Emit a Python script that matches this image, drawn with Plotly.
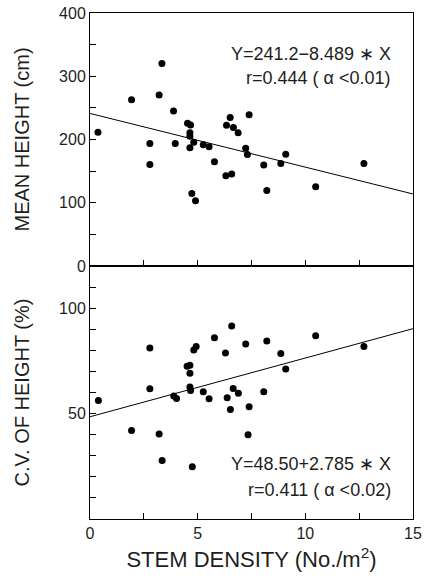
import plotly.graph_objects as go
from plotly.subplots import make_subplots

# ---- data ----
stem_density = [0.37, 1.93, 2.78, 2.78, 3.21, 3.34, 3.88, 3.96, 4.53, 4.67, 4.64, 4.64,
                4.64, 4.82, 4.73, 4.90, 5.26, 5.53, 5.78, 6.31, 6.58, 6.34, 6.51, 6.66,
                6.88, 7.23, 7.31, 7.39, 8.07, 8.21, 8.86, 9.09, 10.48, 12.72]
mean_height = [211.6, 263, 193.7, 160.5, 270.5, 320, 245, 193.7, 225.8, 223, 210.5, 205,
               186.8, 195.8, 114.7, 103, 191.6, 188.4, 164.7, 142.6, 145.3, 222.6, 234.7, 219,
               210.5, 186.3, 176.3, 239, 159.5, 119.5, 162, 176.8, 125.3, 162]

stem_density_cv = [0.39, 1.93, 2.78, 2.78, 3.21, 3.35, 3.89, 4.02, 4.51, 4.64, 4.64, 4.64,
                   4.67, 4.75, 4.82, 4.93, 5.26, 5.53, 5.78, 6.29, 6.37, 6.52, 6.58, 6.65,
                   6.89, 7.23, 7.39, 7.34, 8.07, 8.21, 8.86, 9.09, 10.48, 12.72]
cv_height = [56.2, 42.0, 81.1, 61.8, 40.3, 27.7, 58.3, 57.2, 72.5, 72.9, 69.1, 62.6,
             61.0, 24.8, 80.1, 81.8, 60.3, 57.0, 86.0, 78.7, 57.5, 51.9, 91.6, 61.9,
             59.7, 83.0, 53.2, 40.0, 60.3, 84.4, 78.5, 71.2, 86.9, 81.8]

# regression coefficients [intercept, slope]
fit_height = [241.2, -8.489]
fit_cv = [48.50, 2.785]
fit_x_range = [0, 15]

x_tickvals = [0, 2.5, 5, 7.5, 10, 12.5, 15]
x_ticktext = ["0", " ", "5", " ", "10", " ", "15"]
top_tickvals = [0, 50, 100, 150, 200, 250, 300, 350, 400]
top_ticktext = ["0", " ", "100", " ", "200", " ", "300", " ", "400"]
bot_tickvals = [0, 10, 20, 30, 40, 50, 60, 70, 80, 90, 100, 110, 120]
bot_ticktext = [" ", " ", " ", " ", " ", "50", " ", " ", " ", " ", "100", " ", " "]

FONT = "Liberation Sans, Arial, Helvetica, sans-serif"
INK = "black"
TXT = "#1e1e1e"

fig = make_subplots(rows=2, cols=1, shared_xaxes=True, vertical_spacing=0)

fig.add_trace(go.Scatter(x=stem_density, y=mean_height, mode="markers",
                         marker=dict(color=INK, size=7), showlegend=False), row=1, col=1)
fig.add_trace(go.Scatter(x=fit_x_range,
                         y=[fit_height[0] + fit_height[1] * v for v in fit_x_range],
                         mode="lines", line=dict(color=INK, width=1), showlegend=False),
              row=1, col=1)
fig.add_trace(go.Scatter(x=stem_density_cv, y=cv_height, mode="markers",
                         marker=dict(color=INK, size=7), showlegend=False), row=2, col=1)
fig.add_trace(go.Scatter(x=fit_x_range,
                         y=[fit_cv[0] + fit_cv[1] * v for v in fit_x_range],
                         mode="lines", line=dict(color=INK, width=1), showlegend=False),
              row=2, col=1)

fig.update_xaxes(showline=True, linecolor=INK, linewidth=1, mirror=True,
                 ticks="inside", ticklen=6, tickcolor=INK, tickwidth=1,
                 showgrid=False, zeroline=False,
                 tickfont=dict(family=FONT, size=16, color=TXT),
                 range=[0, 15], tickmode="array",
                 tickvals=x_tickvals, ticktext=x_ticktext)
fig.update_yaxes(showline=True, linecolor=INK, linewidth=1, mirror=True,
                 ticks="inside", ticklen=6, tickcolor=INK, tickwidth=1,
                 showgrid=False, zeroline=False,
                 tickfont=dict(family=FONT, size=16, color=TXT))
fig.update_xaxes(showticklabels=False, row=1, col=1)
fig.update_xaxes(title=dict(text="STEM DENSITY (No./m<sup>2</sup>)",
                            font=dict(family=FONT, size=22, color=TXT), standoff=10),
                 row=2, col=1)
fig.update_yaxes(range=[0, 400], tickmode="array", tickvals=top_tickvals,
                 ticktext=top_ticktext,
                 title=dict(text="MEAN HEIGHT (cm)",
                            font=dict(family=FONT, size=20, color=TXT), standoff=24),
                 row=1, col=1)
fig.update_yaxes(range=[0, 120], tickmode="array", tickvals=bot_tickvals,
                 ticktext=bot_ticktext,
                 title=dict(text="C.V. OF HEIGHT (%)",
                            font=dict(family=FONT, size=20, color=TXT), standoff=24),
                 row=2, col=1)

fig.update_layout(
    width=435, height=582,
    margin=dict(l=90, r=22, t=13, b=63, autoexpand=False),
    paper_bgcolor="white", plot_bgcolor="white",
    font=dict(family=FONT, color=TXT),
)

ann_font = dict(family=FONT, size=18, color=TXT)
fig.add_annotation(x=14.05, y=335, xanchor="right", yanchor="middle",
                   text="Y=241.2−8.489 ∗ X", showarrow=False, font=ann_font, row=1, col=1)
fig.add_annotation(x=14.05, y=298, xanchor="right", yanchor="middle",
                   text="r=0.444 ( α <0.01)", showarrow=False, font=ann_font, row=1, col=1)
fig.add_annotation(x=14.05, y=26.3, xanchor="right", yanchor="middle",
                   text="Y=48.50+2.785 ∗ X", showarrow=False, font=ann_font, row=2, col=1)
fig.add_annotation(x=14.05, y=13.9, xanchor="right", yanchor="middle",
                   text="r=0.411 ( α <0.02)", showarrow=False, font=ann_font, row=2, col=1)

fig.write_html("out.html", config={"displayModeBar": False},
               post_script="document.body.style.margin='0px';")
